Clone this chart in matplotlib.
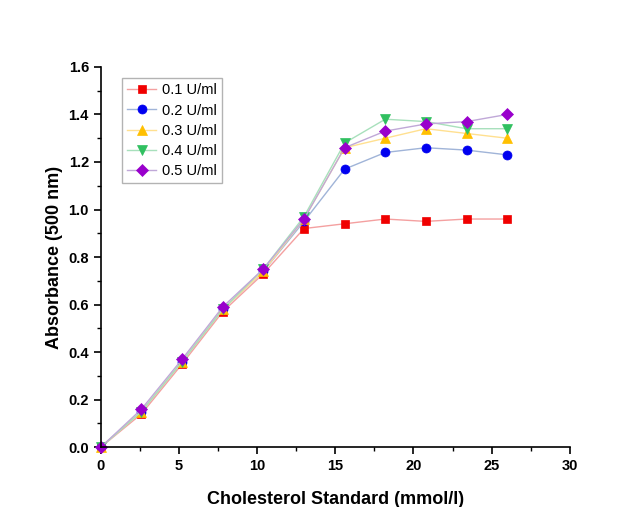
import numpy as np
import matplotlib.pyplot as plt
from matplotlib.ticker import MultipleLocator

plt.rcParams['font.family'] = ['Liberation Sans', 'DejaVu Sans']

# ============================================================
# DATA
# ============================================================
conc = [0, 2.6, 5.2, 7.8, 10.4, 13.0, 15.6, 18.2, 20.8, 23.4, 26.0]
abs_01 = [0, 0.14, 0.35, 0.57, 0.73, 0.92, 0.94, 0.96, 0.95, 0.96, 0.96]
abs_02 = [0, 0.15, 0.36, 0.58, 0.74, 0.95, 1.17, 1.24, 1.26, 1.25, 1.23]
abs_03 = [0, 0.15, 0.36, 0.58, 0.74, 0.96, 1.26, 1.30, 1.34, 1.32, 1.30]
abs_04 = [0, 0.15, 0.36, 0.58, 0.75, 0.97, 1.28, 1.38, 1.37, 1.34, 1.34]
abs_05 = [0, 0.16, 0.37, 0.59, 0.75, 0.96, 1.26, 1.33, 1.36, 1.37, 1.40]
labels = ['0.1 U/ml', '0.2 U/ml', '0.3 U/ml', '0.4 U/ml', '0.5 U/ml']

series = [abs_01, abs_02, abs_03, abs_04, abs_05]
colors = ['#f00000', '#0000f0', '#ffc000', '#30c060', '#9900cc']
line_colors = ['#f4a0a0', '#a0b4d8', '#ffe090', '#a8e0bc', '#c0a8d8']
markers = ['s', 'o', '^', 'v', 'D']
msizes = [6, 6.5, 7, 7, 6]

# ============================================================
# CHART
# ============================================================
fig = plt.figure(figsize=(6.38, 5.07), dpi=100)
ax = fig.add_axes([0.158, 0.118, 0.735, 0.750])

for y, c, lc, m, ms, lab in zip(series, colors, line_colors, markers, msizes, labels):
    ax.plot(conc, y, color=lc, linewidth=1.0, marker=m, markersize=ms,
            markerfacecolor=c, markeredgecolor=c, markeredgewidth=0.5,
            label=lab, clip_on=False)

ax.set_xlim(0, 30)
ax.set_ylim(0, 1.6)
ax.xaxis.set_major_locator(MultipleLocator(5))
ax.xaxis.set_minor_locator(MultipleLocator(2.5))
ax.yaxis.set_major_locator(MultipleLocator(0.2))
ax.yaxis.set_minor_locator(MultipleLocator(0.1))
ax.yaxis.set_major_formatter(plt.FuncFormatter(lambda v, p: f'{v:.1f}'))

for side in ['top', 'right']:
    ax.spines[side].set_visible(False)
for side in ['left', 'bottom']:
    ax.spines[side].set_linewidth(1.2)

ax.tick_params(which='major', direction='out', length=5, width=1.2, labelsize=10.5)
ax.tick_params(which='minor', direction='out', length=3, width=1.0)
for t in ax.get_xticklabels() + ax.get_yticklabels():
    t.set_fontweight('bold')

ax.set_xlabel('Cholesterol Standard (mmol/l)', fontsize=13, fontweight='bold', labelpad=13)
ax.set_ylabel('Absorbance (500 nm)', fontsize=13, fontweight='bold', labelpad=4)

leg = ax.legend(loc='upper left', bbox_to_anchor=(0.045, 0.97), fontsize=10.5,
                frameon=True, fancybox=False, edgecolor='#a0a0a0',
                handlelength=2.0, handletextpad=0.4, labelspacing=0.42,
                borderpad=0.35, borderaxespad=0)
leg.get_frame().set_linewidth(1.0)

plt.savefig('out.png', dpi=100)
